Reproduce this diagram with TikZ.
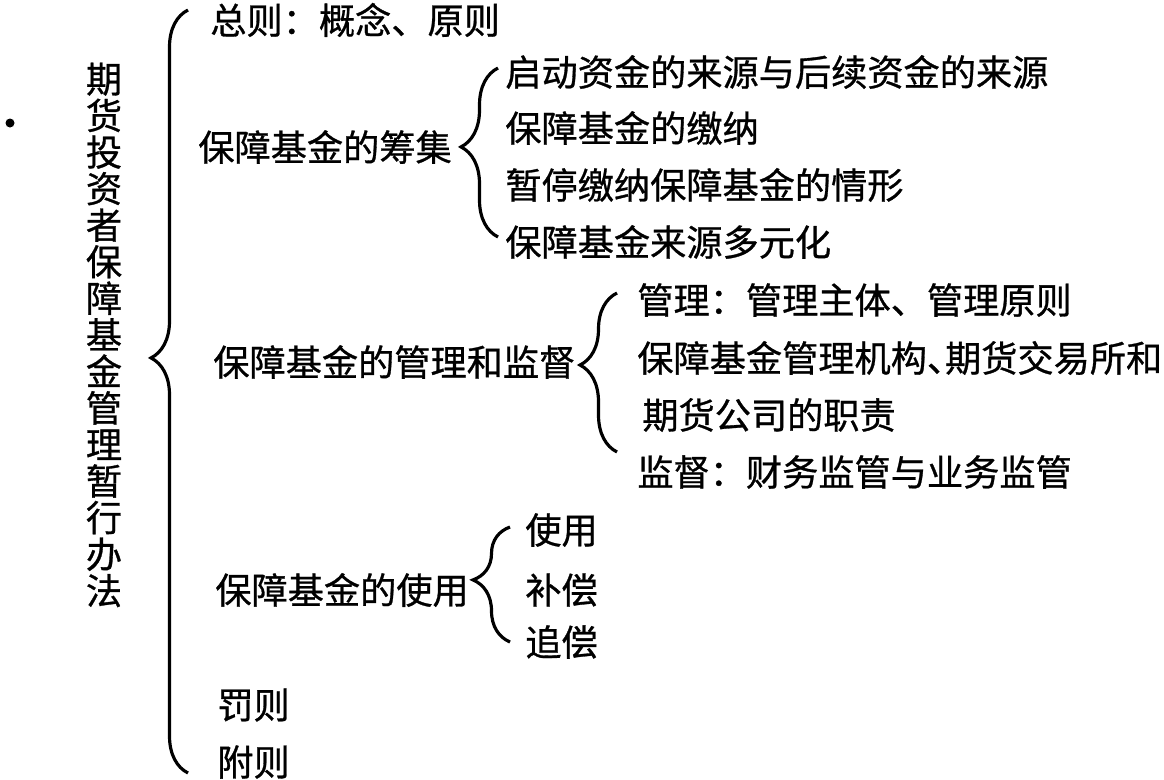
\documentclass[tikz,border=0pt]{standalone}
\usepackage{fontspec}
\setmainfont[FakeBold=0.8]{Noto Sans CJK SC}
\usetikzlibrary{decorations.pathreplacing}

\begin{document}
\begin{tikzpicture}[x=0.2mm, y=-0.2mm,
    topic/.style ={anchor=west, inner sep=0pt, font=\fontsize{20.6}{24}\selectfont},
    title/.style ={align=center, inner sep=0pt, font=\fontsize{20.6}{20.8}\selectfont},
    grouping/.style ={decorate, decoration={brace, amplitude=7.4mm, aspect=#1}, line width=1.8pt}]
   \useasboundingbox (0,0) rectangle (1164,779);
   \fill (10,123) circle (0.9mm);
   % title, one character per line
   \node[title] (title) at (104,335) {期\\货\\投\\资\\者\\保\\障\\基\\金\\管\\理\\暂\\行\\办\\法};
   % first level
   \node[topic] (zongze) at (210,20) {总则：概念、原则};
   \node[topic] (chouji) at (198,147) {保障基金的筹集};
   \node[topic] (guanli) at (213,362) {保障基金的管理和监督};
   \node[topic] (shiyong) at (215,590) {保障基金的使用};
   \node[topic] (faze) at (217,705) {罚则};
   \node[topic] (fuze) at (217,762) {附则};
   % second level
   \node[topic] (chouji1) at (505,72) {启动资金的来源与后续资金的来源};
   \node[topic] (chouji2) at (505,128) {保障基金的缴纳};
   \node[topic] (chouji3) at (505,185) {暂停缴纳保障基金的情形};
   \node[topic] (chouji4) at (505,242) {保障基金来源多元化};
   \node[topic] (guanli1) at (637,300) {管理：管理主体、管理原则};
   \node[topic] (guanli2) at (637,358) {保障基金管理机构、\kern-.5em期货交易所和};
   \node[topic] (guanli3) at (642,415) {期货公司的职责};
   \node[topic] (guanli4) at (637,472) {监督：财务监管与业务监管};
   \node[topic] (shiyong1) at (525,530) {使用};
   \node[topic] (shiyong2) at (525,590) {补偿};
   \node[topic] (shiyong3) at (525,642) {追偿};
   % braces
   \coordinate (main bottom) at (188,773);
   \coordinate (main top) at (188,10);
   \draw[grouping=0.544] (main bottom) -- (main top);
   \draw[grouping=0.533] (498,237) -- (498,68);
   \draw[grouping=0.547] (617,452) -- (617,293);
   \draw[grouping=0.54] (510,642) -- (510,527);
\end{tikzpicture}
\end{document}
